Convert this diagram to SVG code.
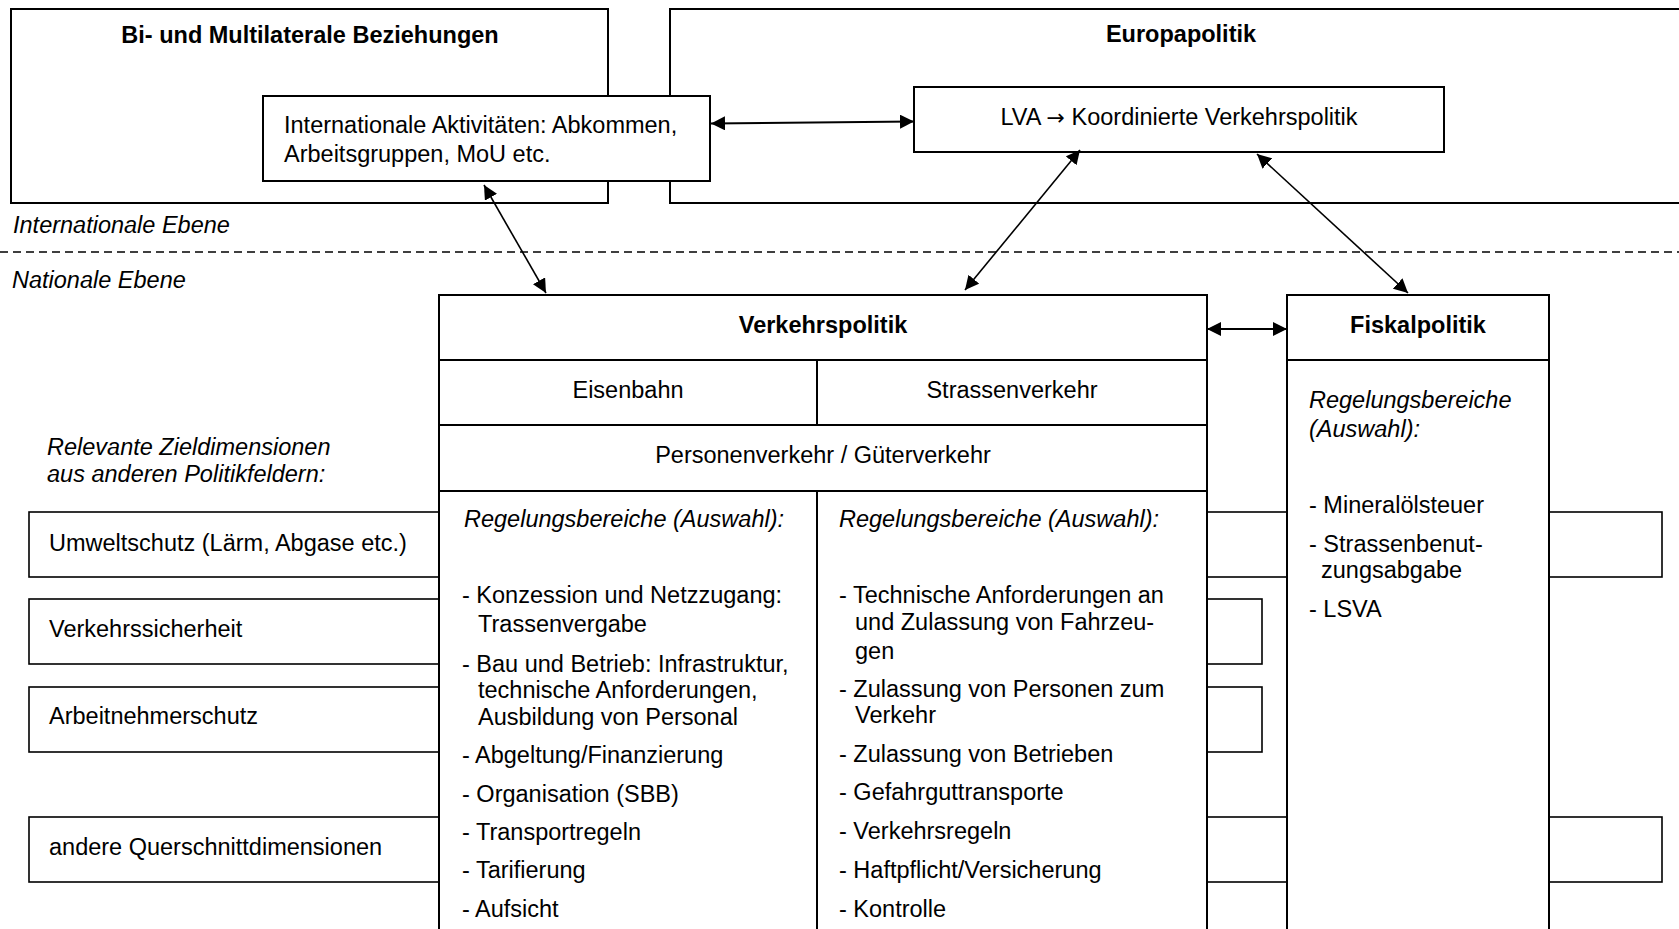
<svg xmlns="http://www.w3.org/2000/svg" width="1679" height="929" viewBox="0 0 1679 929">
<style>
text{font-family:"Liberation Sans",Arial,sans-serif;font-size:23.5px;fill:#000}
.b{font-weight:bold}
.i{font-style:italic}
.m{text-anchor:middle}
.arr{font-family:"DejaVu Sans",sans-serif;font-size:22px}
.box{fill:#fff;stroke:#000;stroke-width:2}
.thin{fill:#fff;stroke:#000;stroke-width:1.6}
.ln{stroke:#000;stroke-width:2;fill:none}
.con{stroke:#000;stroke-width:1.6;fill:none;marker-start:url(#ah);marker-end:url(#ah)}
.con2{stroke:#000;stroke-width:2.2;fill:none;marker-start:url(#ah);marker-end:url(#ah)}
</style>
<defs>
<marker id="ah" viewBox="0 0 14 14" markerWidth="14" markerHeight="14" refX="14" refY="7" orient="auto-start-reverse" markerUnits="userSpaceOnUse">
<path d="M0,0 L14,7 L0,14 z" fill="#000"/>
</marker>
</defs>
<rect width="1679" height="929" fill="#fff"/>

<g id="bilateral">
<rect class="box" x="11" y="9" width="597" height="194"/>
<text class="b m" x="310" y="43">Bi- und Multilaterale Beziehungen</text>
</g>
<g id="europa">
<rect class="box" x="670" y="9" width="1030" height="194"/>
<text class="b m" x="1181" y="42">Europapolitik</text>
</g>
<g id="internationale">
<rect class="box" x="263" y="96" width="447" height="85"/>
<text x="284" y="133">Internationale Aktivitäten: Abkommen,</text>
<text x="284" y="162">Arbeitsgruppen, MoU etc.</text>
</g>
<g id="lva">
<rect class="box" x="914" y="87" width="530" height="65"/>
<text class="m" x="1179" y="125">LVA <tspan class="arr">→</tspan> Koordinierte Verkehrspolitik</text>
</g>

<g id="ebenen">
<text class="i" x="13" y="233">Internationale Ebene</text>
<line x1="0" y1="252" x2="1679" y2="252" stroke="#000" stroke-width="1.6" stroke-dasharray="8,5"/>
<text class="i" x="12" y="288">Nationale Ebene</text>
</g>

<g id="zieldimensionen-label">
<text class="i" x="47" y="455">Relevante Zieldimensionen</text>
<text class="i" x="47" y="482">aus anderen Politikfeldern:</text>
</g>

<g id="umweltschutz">
<rect class="thin" x="29" y="512" width="1633" height="65"/>
<text x="49" y="551">Umweltschutz (Lärm, Abgase etc.)</text>
</g>
<g id="verkehrssicherheit">
<rect class="thin" x="29" y="599" width="1233" height="65"/>
<text x="49" y="637">Verkehrssicherheit</text>
</g>
<g id="arbeitnehmerschutz">
<rect class="thin" x="29" y="687" width="1233" height="65"/>
<text x="49" y="724">Arbeitnehmerschutz</text>
</g>
<g id="querschnitt">
<rect class="thin" x="29" y="817" width="1633" height="65"/>
<text x="49" y="855">andere Querschnittdimensionen</text>
</g>

<g id="verkehrspolitik">
<rect class="box" x="439" y="295" width="768" height="660"/>
<line class="ln" x1="439" y1="360" x2="1207" y2="360"/>
<line class="ln" x1="439" y1="425" x2="1207" y2="425"/>
<line class="ln" x1="439" y1="491" x2="1207" y2="491"/>
<line class="ln" x1="817" y1="360" x2="817" y2="425"/>
<line class="ln" x1="817" y1="491" x2="817" y2="929"/>
<text class="b m" x="823" y="333">Verkehrspolitik</text>
<text class="m" x="628" y="398">Eisenbahn</text>
<text class="m" x="1012" y="398">Strassenverkehr</text>
<text class="m" x="823" y="463">Personenverkehr / Güterverkehr</text>
<text class="i" x="464" y="527">Regelungsbereiche (Auswahl):</text>
<text x="462" y="603">- Konzession und Netzzugang:</text>
<text x="478" y="632">Trassenvergabe</text>
<text x="462" y="672">- Bau und Betrieb: Infrastruktur,</text>
<text x="478" y="698">technische Anforderungen,</text>
<text x="478" y="725">Ausbildung von Personal</text>
<text x="462" y="763">- Abgeltung/Finanzierung</text>
<text x="462" y="802">- Organisation (SBB)</text>
<text x="462" y="840">- Transportregeln</text>
<text x="462" y="878">- Tarifierung</text>
<text x="462" y="917">- Aufsicht</text>
<text class="i" x="839" y="527">Regelungsbereiche (Auswahl):</text>
<text x="839" y="603">- Technische Anforderungen an</text>
<text x="855" y="630">und Zulassung von Fahrzeu-</text>
<text x="855" y="659">gen</text>
<text x="839" y="697">- Zulassung von Personen zum</text>
<text x="855" y="723">Verkehr</text>
<text x="839" y="762">- Zulassung von Betrieben</text>
<text x="839" y="800">- Gefahrguttransporte</text>
<text x="839" y="839">- Verkehrsregeln</text>
<text x="839" y="878">- Haftpflicht/Versicherung</text>
<text x="839" y="917">- Kontrolle</text>
</g>

<g id="fiskalpolitik">
<rect class="box" x="1287" y="295" width="262" height="660"/>
<line class="ln" x1="1287" y1="360" x2="1549" y2="360"/>
<text class="b m" x="1418" y="333">Fiskalpolitik</text>
<text class="i" x="1309" y="408">Regelungsbereiche</text>
<text class="i" x="1309" y="437">(Auswahl):</text>
<text x="1309" y="513">- Mineralölsteuer</text>
<text x="1309" y="552">- Strassenbenut-</text>
<text x="1321" y="578">zungsabgabe</text>
<text x="1309" y="617">- LSVA</text>
</g>

<g id="connectors">
<line class="con2" x1="711" y1="123.5" x2="914" y2="121.5"/>
<line class="con" x1="484" y1="185" x2="546" y2="293"/>
<line class="con" x1="1080" y1="150" x2="965" y2="290"/>
<line class="con" x1="1257" y1="154" x2="1408" y2="293"/>
<line class="con2" x1="1207" y1="329" x2="1287" y2="329"/>
</g>
</svg>
